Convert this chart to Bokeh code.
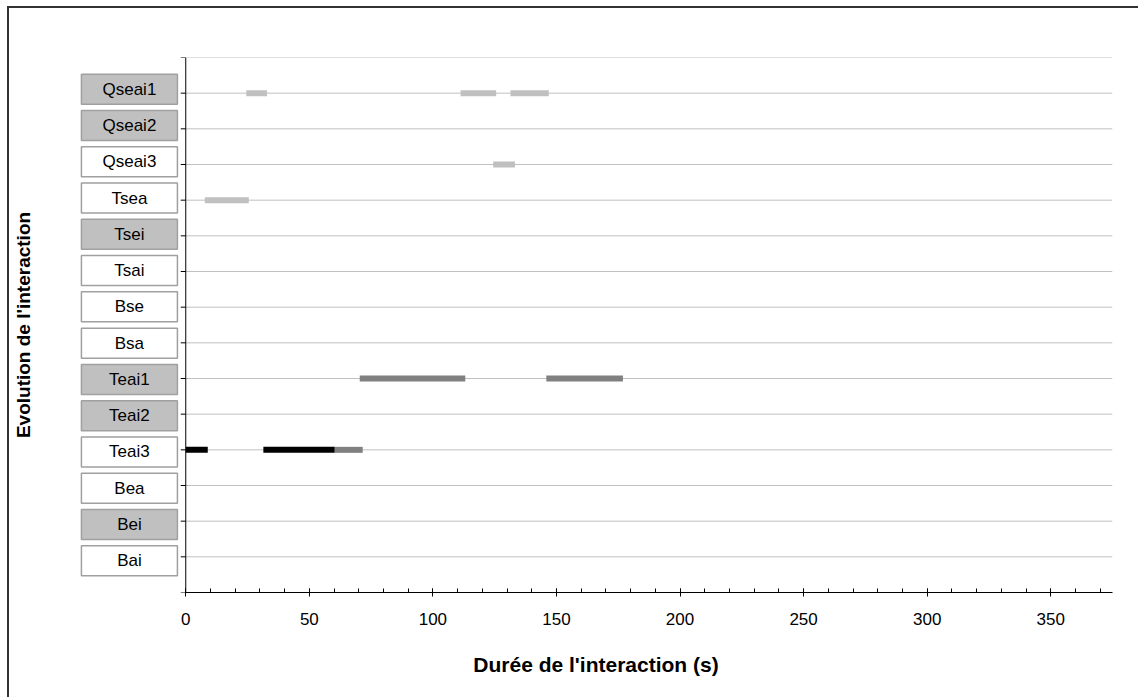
from bokeh.plotting import figure
from bokeh.models import Range1d, SingleIntervalTicker, FixedTicker, ColumnDataSource
from bokeh.core.properties import value
from bokeh.embed import file_html
from bokeh.resources import INLINE

# ---- data ----
categories = ["Qseai1", "Qseai2", "Qseai3", "Tsea", "Tsei", "Tsai", "Bse", "Bsa",
              "Teai1", "Teai2", "Teai3", "Bea", "Bei", "Bai"]
highlighted = [True, True, False, False, True, False, False, False,
               True, True, False, False, True, False]

seg_category = ["Qseai1", "Qseai1", "Qseai1", "Qseai3", "Tsea",
                "Teai1", "Teai1", "Teai3", "Teai3", "Teai3"]
seg_start = [24.5, 111.2, 131.4, 124.4, 7.7, 70.4, 145.9, 0.0, 31.4, 60.3]
seg_end = [32.9, 125.6, 146.9, 133.2, 25.5, 113.1, 176.9, 8.9, 60.3, 71.6]
seg_kind = ["light", "light", "light", "light", "light",
            "mid", "mid", "dark", "dark", "mid"]

x_ticks_interval = 50
x_max = 375

# ---- layout ----
FONT = "Liberation Sans"
kind_color = {"light": "#c0c0c0", "mid": "#808080", "dark": "#000000"}
n = len(categories)
level = {c: n - i for i, c in enumerate(categories)}
levels = [level[c] for c in categories]
mid = (n + 1) / 2
box_y = [mid + (l - mid) * 1.0165 for l in levels]
box_x = -22.8

p = figure(width=1131, height=691, output_backend="svg", toolbar_location=None,
           x_range=Range1d(-43, x_max), y_range=Range1d(0, n + 1),
           min_border_left=69, min_border_right=28, min_border_top=49, min_border_bottom=107)
p.outline_line_color = None
p.xgrid.visible = False
p.ygrid.visible = False
p.background_fill_color = "white"
p.border_fill_color = "white"
p.styles = {"border-left": "2px solid #333333", "border-top": "2px solid #333333",
            "margin-left": "7px", "margin-top": "6px"}

# grid lines
grid_levels = list(range(1, n + 2))
p.segment(x0=[0] * len(grid_levels), x1=[x_max] * len(grid_levels),
          y0=grid_levels, y1=grid_levels, line_color="#c0c0c0", line_width=1)

# y axis line and ticks
p.segment(x0=[0], x1=[0], y0=[0], y1=[n + 1], line_color="#000000", line_width=1)
tick_levels = list(range(0, n + 2))
p.ray(x=[0] * len(tick_levels), y=tick_levels, length=5, length_units="screen",
      angle=3.14159265, line_color="#000000", line_width=1)

# segments (bars)
src = ColumnDataSource(dict(
    x0=seg_start, x1=seg_end,
    y=[level[c] for c in seg_category],
    color=[kind_color[k] for k in seg_kind]))
p.segment(x0="x0", x1="x1", y0="y", y1="y", line_color="color",
          line_width=6, line_cap="butt", source=src)

# category boxes
bsrc = ColumnDataSource(dict(
    x=[box_x] * n, y=box_y, label=categories,
    fill=["#c0c0c0" if h else "#ffffff" for h in highlighted]))
p.rect(x="x", y="y", width=96, height=30, width_units="screen", height_units="screen",
       fill_color="fill", line_color="#a0a0a0", line_width=1.5, source=bsrc)
p.text(x="x", y="y", text="label", text_align="center", text_baseline="middle",
       text_font=value(FONT), text_font_size="17px", text_color="#000000", source=bsrc)

# x axis
xa = p.xaxis[0]
xa.bounds = (0, x_max)
xa.ticker = SingleIntervalTicker(interval=x_ticks_interval, num_minor_ticks=5)
xa.axis_line_color = "#000000"
xa.major_tick_line_color = "#000000"
xa.minor_tick_line_color = "#000000"
xa.major_tick_in = 4
xa.major_tick_out = 4
xa.minor_tick_in = 4
xa.minor_tick_out = 0
xa.major_label_text_font = FONT
xa.major_label_text_font_size = "17px"
xa.major_label_text_color = "#000000"
xa.major_label_standoff = 16
xa.axis_label = "Durée de l'interaction (s)"
xa.axis_label_text_font = FONT
xa.axis_label_text_font_style = "bold"
xa.axis_label_text_font_size = "21px"
xa.axis_label_text_color = "#000000"
xa.axis_label_standoff = 25

# y axis: label only
ya = p.yaxis[0]
ya.ticker = FixedTicker(ticks=[])
ya.axis_line_color = None
ya.major_tick_line_color = None
ya.minor_tick_line_color = None
ya.major_label_text_color = None
ya.axis_label = "Evolution de l'interaction"
ya.axis_label_text_font = FONT
ya.axis_label_text_font_style = "bold"
ya.axis_label_text_font_size = "19px"
ya.axis_label_text_color = "#000000"
ya.axis_label_standoff = 46

open("out.html", "w").write(file_html(p, INLINE))
